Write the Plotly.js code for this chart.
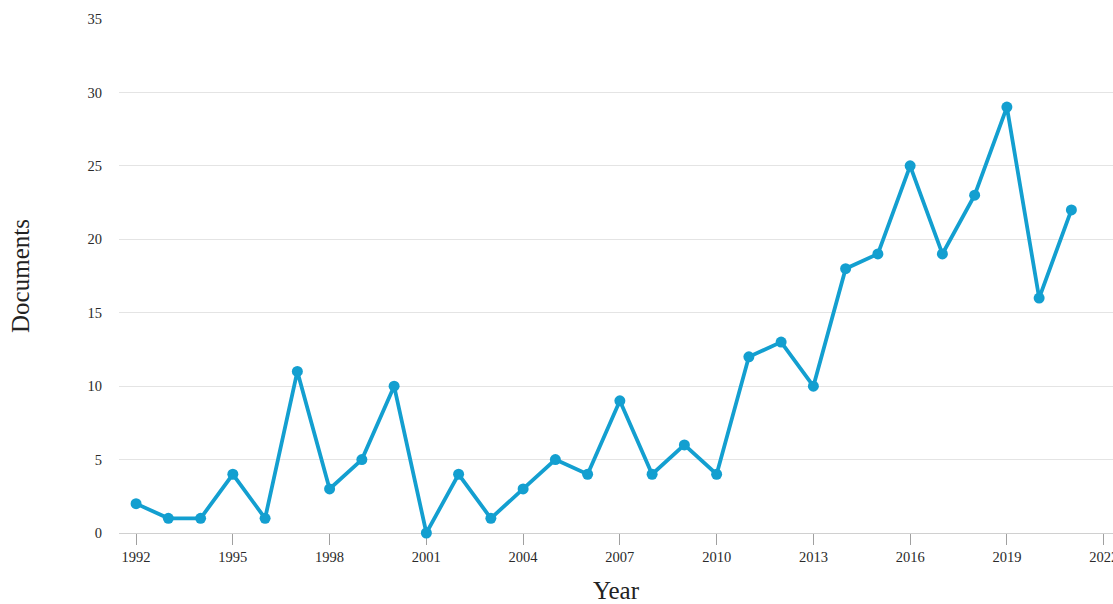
<!DOCTYPE html>
<html>
<head>
<meta charset="utf-8">
<script src="https://cdn.plot.ly/plotly-3.0.1.min.js"></script>
<style>html,body{margin:0;padding:0;background:#fff;}#chart{width:1113px;height:604px;}</style>
</head>
<body>
<div id="chart"></div>
<script>
const years = [1992,1993,1994,1995,1996,1997,1998,1999,2000,2001,2002,2003,2004,2005,2006,2007,2008,2009,2010,2011,2012,2013,2014,2015,2016,2017,2018,2019,2020,2021];
const documents = [2,1,1,4,1,11,3,5,10,0,4,1,3,5,4,9,4,6,4,12,13,10,18,19,25,19,23,29,16,22];
const xTicks = [1992,1995,1998,2001,2004,2007,2010,2013,2016,2019,2022];
const yTicks = [0,5,10,15,20,25,30,35];

const serif = "Liberation Serif, Times New Roman, serif";
const trace = {
  x: years, y: documents, type: 'scatter', mode: 'lines+markers',
  line: {color: '#139fd0', width: 3.8},
  marker: {color: '#139fd0', size: 11},
  cliponaxis: false, hoverinfo: 'x+y'
};
const layout = {
  width: 1113, height: 604,
  margin: {l: 119, r: 0, t: 19, b: 71, pad: 0},
  paper_bgcolor: '#fff', plot_bgcolor: '#fff',
  showlegend: false,
  font: {family: serif, color: '#333'},
  xaxis: {
    range: [1991.47, 2022.29], tickvals: xTicks, ticktext: xTicks.map(String),
    showgrid: false, zeroline: false, layer: 'below traces',
    showline: true, linecolor: '#d0d0d0', linewidth: 1,
    ticks: 'outside', ticklen: 11, tickcolor: '#a0a0a0', tickwidth: 1,
    tickfont: {family: serif, size: 14.5, color: '#2a2a2a'},
    ticklabeloverflow: 'allow',
    automargin: false,
    title: {text: 'Year', font: {family: serif, size: 25, color: '#222'}, standoff: 20}
  },
  yaxis: {
    range: [0, 35], tickvals: yTicks, ticktext: yTicks.map(String),
    showgrid: true, gridcolor: '#e4e4e4', gridwidth: 1,
    zeroline: false, showline: false, ticks: '', layer: 'below traces',
    tickfont: {family: serif, size: 14.5, color: '#2a2a2a'},
    ticklabelstandoff: 16,
    automargin: false,
    title: {text: 'Documents', font: {family: serif, size: 25, color: '#222'}, standoff: 50}
  }
};
Plotly.newPlot('chart', [trace], layout, {displayModeBar: false, staticPlot: true});
</script>
</body>
</html>
